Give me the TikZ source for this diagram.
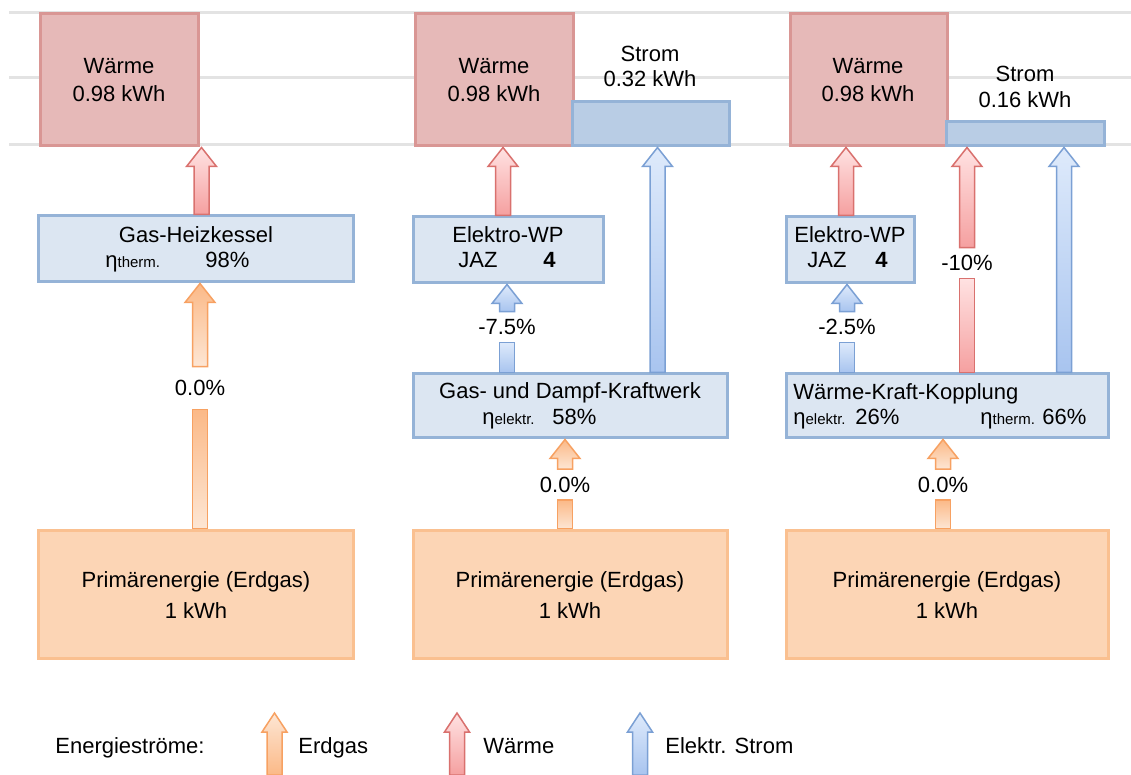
\documentclass[tikz,border=0pt]{standalone}
\usepackage{fontspec}
\setmainfont{Liberation Sans}
\usetikzlibrary{calc,fit}

\definecolor{heatfill}{HTML}{E6B9B8}
\definecolor{heatdraw}{HTML}{D99694}
\definecolor{stromfill}{HTML}{B9CDE5}
\definecolor{unitfill}{HTML}{DCE6F2}
\definecolor{unitdraw}{HTML}{95B3D7}
\definecolor{primfill}{HTML}{FCD5B5}
\definecolor{primdraw}{HTML}{FAC090}
\definecolor{gridgray}{HTML}{E3E3E3}
\definecolor{gasdraw}{HTML}{F7A162}
\definecolor{gasdark}{HTML}{FBB987}
\definecolor{gaslight}{HTML}{FDE6D4}
\definecolor{heatarrow}{HTML}{D9716E}
\definecolor{heatlight}{HTML}{FFE2E2}
\definecolor{heatdark}{HTML}{F5A0A0}
\definecolor{elecdraw}{HTML}{7BA0D4}
\definecolor{eleclight}{HTML}{DEEAFB}
\definecolor{elecdark}{HTML}{A8C4EF}

\newcommand{\boxfont}{\fontsize{11}{13.5}\selectfont}
\newcommand{\effsub}[1]{η{\fontsize{7.5}{9}\selectfont #1}}

% block arrow: style, start (x and bottom), tip (only y used)
\def\shaftw{7.5pt}
\def\headw{15pt}
\def\headlen{9.5pt}
\newcommand{\flowup}[3]{%
  \path[#1] let \p1=(#2), \p2=(#3) in
    (\x1-\shaftw/2,\y1) -- (\x1-\shaftw/2,\y2-\headlen) -- (\x1-\headw/2,\y2-\headlen)
    -- (\x1,\y2) -- (\x1+\headw/2,\y2-\headlen) -- (\x1+\shaftw/2,\y2-\headlen)
    -- (\x1+\shaftw/2,\y1) -- cycle;
}
% arrow without head
\newcommand{\flowstub}[3]{%
  \path[#1] let \p1=(#2), \p2=(#3) in
    (\x1-\shaftw/2,\y1) rectangle (\x1+\shaftw/2,\y2);
}

\tikzset{
  box/.style={line width=1.5pt, inner sep=0pt},
  heatbox/.style={box, draw=heatdraw, fill=heatfill},
  strombar/.style={box, draw=unitdraw, fill=stromfill},
  unitbox/.style={box, draw=unitdraw, fill=unitfill},
  primbox/.style={box, draw=primdraw, fill=primfill},
  txt/.style={font=\boxfont, inner sep=0pt, anchor=base},
  txtl/.style={txt, anchor=base west},
  pct/.style={font=\boxfont, inner sep=0pt, minimum height=15pt},
  gasflow/.style={draw=gasdraw, line width=0.75pt, top color=gasdark, bottom color=gaslight},
  heatflow/.style={draw=heatarrow, line width=0.75pt, top color=heatlight, bottom color=heatdark},
  elecflow/.style={draw=elecdraw, line width=0.75pt, top color=eleclight, bottom color=elecdark},
}

\begin{document}
\begin{tikzpicture}[x=0.5pt, y=-0.5pt]
\useasboundingbox (0,0) rectangle (1131,775);

% grid lines
\foreach \gy in {13,78,145}
  \draw[gridgray, line width=1.5pt] (9,\gy) -- (1131,\gy);

% column 1: Gas-Heizkessel
\node[heatbox, fit={(40,14) (198,146)}] (waerme1) {};
\node[txt] (waermename1) at (119,74) {Wärme};
\node[txt] (waermeval1) at (119,102) {0.98 kWh};
\node[unitbox, fit={(38,216) (353,282)}] (kessel) {};
\node[txt] (kesselname) at (196,243) {Gas-Heizkessel};
\node[txtl] (kesseleta) at (105,268) {\effsub{therm.}};
\node[txtl] (kesselval) at (205,268) {98\%};
\node[primbox, fit={(38,530) (353,658)}] (prim1) {};
\node[txt] (primname1) at (196,588) {Primärenergie (Erdgas)};
\node[txt] (primval1) at (196,618) {1 kWh};

% column 2: GuD + Elektro-WP
\node[heatbox, fit={(415,14) (573,146)}] (waerme2) {};
\node[txt] (waermename2) at (494,74) {Wärme};
\node[txt] (waermeval2) at (494,102) {0.98 kWh};
\node[strombar, fit={(572,102) (729,146)}] (strom2) {};
\node[txt] (stromname2) at (650,62) {Strom};
\node[txt] (stromval2) at (650,87) {0.32 kWh};
\node[unitbox, fit={(413,217) (603,283)}] (wp2) {};
\node[txt] (wpname2) at (508,243) {Elektro-WP};
\node[txtl] (jaz2) at (458,268) {JAZ};
\node[txtl] (jazval2) at (543,268) {\textbf{4}};
\node[unitbox, fit={(413,374) (727,438)}] (gud) {};
\node[txt] (gudname) at (570,399) {Gas- und Dampf-Kraftwerk};
\node[txtl] (gudeta) at (482,425) {\effsub{elektr.}};
\node[txtl] (gudval) at (552,425) {58\%};
\node[primbox, fit={(413,530) (727,658)}] (prim2) {};
\node[txt] (primname2) at (570,588) {Primärenergie (Erdgas)};
\node[txt] (primval2) at (570,618) {1 kWh};

% column 3: KWK + Elektro-WP
\node[heatbox, fit={(790,14) (947,146)}] (waerme3) {};
\node[txt] (waermename3) at (868,74) {Wärme};
\node[txt] (waermeval3) at (868,102) {0.98 kWh};
\node[strombar, fit={(946,122) (1104,146)}] (strom3) {};
\node[txt] (stromname3) at (1025,82) {Strom};
\node[txt] (stromval3) at (1025,108) {0.16 kWh};
\node[unitbox, fit={(786,217) (914,283)}] (wp3) {};
\node[txt] (wpname3) at (850,243) {Elektro-WP};
\node[txtl] (jaz3) at (807,268) {JAZ};
\node[txtl] (jazval3) at (875,268) {\textbf{4}};
\node[unitbox, fit={(786,374) (1108,438)}] (kwk) {};
\node[txtl] (kwkname) at (793,400) {Wärme-Kraft-Kopplung};
\node[txtl] (kwketa) at (793,425) {\effsub{elektr.}};
\node[txtl] (kwkval) at (855,425) {26\%};
\node[txtl] (kwketat) at (980,425) {\effsub{therm.}};
\node[txtl] (kwkvalt) at (1042,425) {66\%};
\node[primbox, fit={(786,530) (1108,658)}] (prim3) {};
\node[txt] (primname3) at (947,588) {Primärenergie (Erdgas)};
\node[txt] (primval3) at (947,618) {1 kWh};

% loss labels
\node[pct, minimum height=21pt] (pctg1) at (200,388) {0.0\%};
\node[pct] (pctb2) at (507,327) {-7.5\%};
\node[pct] (pctg2) at (565,484.5) {0.0\%};
\node[pct] (pctb3) at (847,327) {-2.5\%};
\node[pct] (pcth3) at (967,263) {-10\%};
\node[pct] (pctg3) at (943,484.5) {0.0\%};

% flows column 1
\flowup{heatflow}{[xshift=3pt]kessel.north}{waerme1.south}
\flowup{gasflow}{pctg1.north}{kessel.south}
\flowstub{gasflow}{prim1.north -| pctg1}{pctg1.south}

% flows column 2
\flowup{heatflow}{[xshift=-2.5pt]wp2.north}{waerme2.south}
\flowup{elecflow}{[xshift=3.5pt]gud.north -| strom2.south}{strom2.south}
\flowup{elecflow}{pctb2.north}{wp2.south}
\flowstub{elecflow}{gud.north -| pctb2}{pctb2.south}
\flowup{gasflow}{pctg2.north}{gud.south}
\flowstub{gasflow}{prim2.north -| pctg2}{pctg2.south}

% flows column 3
\flowup{heatflow}{[xshift=-2pt]wp3.north}{waerme3.south}
\flowup{heatflow}{pcth3.north}{strom3.south}
\flowstub{heatflow}{kwk.north -| pcth3}{pcth3.south}
\flowup{elecflow}{[xshift=19.5pt]kwk.north -| strom3.south}{strom3.south}
\flowup{elecflow}{pctb3.north}{wp3.south}
\flowstub{elecflow}{kwk.north -| pctb3}{pctb3.south}
\flowup{gasflow}{pctg3.north}{kwk.south}
\flowstub{gasflow}{prim3.north -| pctg3}{pctg3.south}

% legend
\node[txtl] (legtitle) at (55,753) {Energieströme:};
\coordinate (leggas) at (274.5,775);
\coordinate (legheat) at (457,775);
\coordinate (legelec) at (640,775);
\coordinate (legtip) at (0,713);
\def\headw{12.5pt}
\flowup{gasflow, top color=gaslight, bottom color=gasdark}{leggas}{legtip}
\flowup{heatflow}{legheat}{legtip}
\flowup{elecflow}{legelec}{legtip}
\node[txtl] (leggastxt) at (298,753) {Erdgas};
\node[txtl] (legheattxt) at (483,753) {Wärme};
\node[txtl] (legelectxt) at (665,753) {Elektr. Strom};
\end{tikzpicture}
\end{document}
